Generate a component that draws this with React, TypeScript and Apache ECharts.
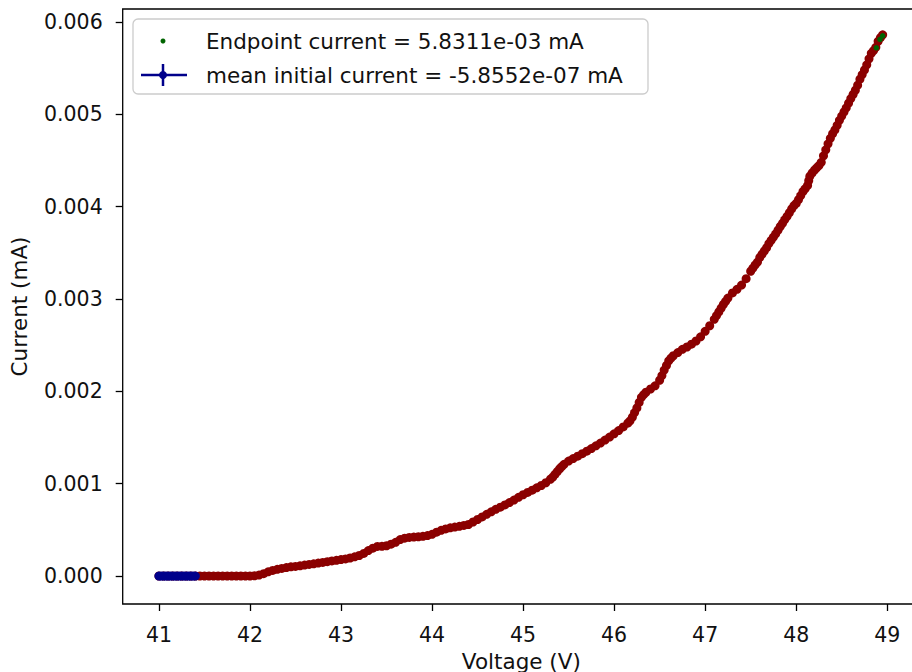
import React, { useEffect, useRef } from "react";
import * as echarts from "echarts";

// Sweep data (voltage in V, current in µA = 1e-3 mA)
const sweepVoltage = [
  41.0, 41.05, 41.1, 41.15, 41.2, 41.25, 41.3, 41.35, 41.4, 41.45,
  41.5, 41.55, 41.6, 41.65, 41.7, 41.75, 41.8, 41.85, 41.9, 41.95,
  42.0, 42.05, 42.1, 42.15, 42.2, 42.25, 42.3, 42.35, 42.4, 42.45,
  42.5, 42.55, 42.6, 42.65, 42.7, 42.75, 42.8, 42.85, 42.9, 42.95,
  43.0, 43.05, 43.1, 43.15, 43.2, 43.25, 43.3, 43.35, 43.4, 43.45,
  43.5, 43.55, 43.6, 43.65, 43.7, 43.75, 43.8, 43.85, 43.9, 43.95,
  44.0, 44.05, 44.1, 44.15, 44.2, 44.25, 44.3, 44.35, 44.4, 44.45,
  44.5, 44.55, 44.6, 44.65, 44.7, 44.75, 44.8, 44.85, 44.9, 44.95,
  45.0, 45.05, 45.1, 45.15, 45.2, 45.25, 45.3, 45.325, 45.35, 45.375, 45.4, 45.425, 45.45,
  45.5, 45.55, 45.6, 45.65, 45.7, 45.75, 45.8, 45.85, 45.9, 45.95,
  46.0, 46.05, 46.1, 46.15, 46.175, 46.2, 46.225, 46.25, 46.275, 46.3, 46.325, 46.35, 46.4, 46.45,
  46.5, 46.525, 46.55, 46.575, 46.6, 46.625, 46.65, 46.7, 46.75, 46.8, 46.85, 46.9, 46.95,
  47.0, 47.05, 47.1, 47.125, 47.15, 47.175, 47.2, 47.225, 47.25, 47.3, 47.35, 47.4, 47.45,
  47.5,
  47.525, 47.55, 47.575, 47.6, 47.625, 47.65, 47.675, 47.7, 47.725, 47.75,
  47.775, 47.8, 47.825, 47.85, 47.875, 47.9, 47.925, 47.95, 47.975, 48.0,
  48.025, 48.05, 48.075, 48.1, 48.125, 48.1375, 48.15, 48.175, 48.2, 48.225, 48.25,
  48.275, 48.3, 48.325, 48.35, 48.375, 48.4, 48.425, 48.45, 48.475, 48.5,
  48.525, 48.55, 48.575, 48.6, 48.625, 48.65, 48.675, 48.7, 48.725, 48.75,
  48.775, 48.8, 48.825, 48.85, 48.875, 48.9, 48.925, 48.95,
];

const sweepCurrentUA = [
  0, 0, 0, 0, 0, 0, 0, 0, 0, 0,
  0, 0, 0, 0, 0, 0, 0, 0, 0, 0,
  0.0, 0.003, 0.01, 0.025, 0.045, 0.06, 0.072, 0.082, 0.092, 0.1,
  0.104, 0.11, 0.118, 0.125, 0.132, 0.14, 0.147, 0.155, 0.163, 0.17,
  0.178, 0.185, 0.195, 0.208, 0.222, 0.245, 0.275, 0.302, 0.32, 0.322,
  0.328, 0.345, 0.365, 0.395, 0.41, 0.418, 0.422, 0.425, 0.43, 0.438,
  0.452, 0.475, 0.495, 0.51, 0.522, 0.53, 0.538, 0.548, 0.558, 0.585,
  0.612, 0.64, 0.668, 0.695, 0.722, 0.745, 0.77, 0.795, 0.822, 0.852,
  0.88, 0.905, 0.93, 0.955, 0.98, 1.01, 1.048, 1.07, 1.1, 1.13, 1.16, 1.185, 1.21,
  1.245, 1.272, 1.298, 1.325, 1.352, 1.38, 1.41, 1.44, 1.472, 1.505,
  1.54, 1.575, 1.615, 1.655, 1.68, 1.72, 1.77, 1.82, 1.88, 1.935, 1.965, 1.99, 2.025, 2.06,
  2.12, 2.17, 2.23, 2.28, 2.33, 2.36, 2.385, 2.42, 2.455, 2.48, 2.51, 2.545, 2.59,
  2.65, 2.71, 2.78, 2.82, 2.86, 2.9, 2.94, 2.975, 3.01, 3.065, 3.105, 3.15, 3.22,
  3.3,
  3.335, 3.37, 3.4, 3.45, 3.485, 3.52, 3.555, 3.6, 3.635, 3.67,
  3.705, 3.745, 3.785, 3.82, 3.86, 3.895, 3.935, 3.975, 4.01, 4.035,
  4.075, 4.12, 4.165, 4.195, 4.23, 4.28, 4.33, 4.365, 4.395, 4.42, 4.445,
  4.48, 4.55, 4.615, 4.68, 4.74, 4.79, 4.83, 4.88, 4.935, 4.98,
  5.025, 5.07, 5.12, 5.17, 5.215, 5.26, 5.315, 5.38, 5.43, 5.48,
  5.535, 5.6, 5.66, 5.69, 5.725, 5.79, 5.83, 5.86,
];

const initialVoltage = [
  41.0, 41.025, 41.05, 41.075, 41.1, 41.125, 41.15, 41.175, 41.2,
  41.225, 41.25, 41.275, 41.3, 41.325, 41.35, 41.375, 41.4,
];
const initialCurrentUA = [
  -0.001, 0.0, -0.001, 0.0, -0.001, 0.0, -0.001, 0.0, -0.001,
  0.0, -0.001, 0.0, -0.001, 0.0, -0.001, 0.0, -0.001,
];

const endpointVoltage = [48.88, 48.92, 48.95];
const endpointCurrentUA = [5.72, 5.81, 5.85];

const xTicks = [41, 42, 43, 44, 45, 46, 47, 48, 49];
const yTicks = [0, 0.001, 0.002, 0.003, 0.004, 0.005, 0.006];

const endpointLabel = "Endpoint current = 5.8311e-03 mA";
const initialLabel = "mean initial current = -5.8552e-07 mA";
const xName = "Voltage (V)";
const yName = "Current (mA)";

const FONT = "DejaVu Sans";
const TXT = "#111";

export default function App() {
  const ref = useRef<HTMLDivElement>(null);
  useEffect(() => {
    if (!ref.current) return;
    const chart = echarts.init(ref.current, undefined, { renderer: "svg" });
    const toMA = (ua: number) => ua / 1000;
    const redData = sweepVoltage.map((v, i) => [v, toMA(sweepCurrentUA[i])]);
    const blueData = initialVoltage.map((v, i) => [v, toMA(initialCurrentUA[i])]);
    const greenData = endpointVoltage.map((v, i) => [v, toMA(endpointCurrentUA[i])]);

    chart.setOption({
      animation: false,
      grid: {
        left: 122.7,
        top: 9,
        width: 797.3,
        height: 595,
        show: true,
        borderColor: "#000",
        borderWidth: 1.3,
        backgroundColor: "transparent",
        containLabel: false,
        outerBoundsMode: "none",
      },
      xAxis: {
        type: "value",
        min: 40.602,
        max: 49.36,
        name: xName,
        nameLocation: "middle",
        nameGap: 46,
        nameTextStyle: { fontFamily: FONT, fontSize: 21.5, color: TXT },
        axisLine: { show: false, onZero: false },
        splitLine: { show: false },
        axisTick: {
          show: true,
          inside: false,
          length: 7,
          lineStyle: { color: "#000", width: 1.3 },
          customValues: xTicks,
        },
        axisLabel: {
          fontFamily: FONT,
          fontSize: 20.5,
          color: TXT,
          margin: 20,
          customValues: xTicks,
          formatter: (v: number) => String(Math.round(v)),
        },
      },
      yAxis: {
        type: "value",
        min: -0.000303,
        max: 0.00614,
        name: yName,
        nameLocation: "middle",
        nameGap: 92,
        nameTextStyle: { fontFamily: FONT, fontSize: 21.5, color: TXT },
        axisLine: { show: false, onZero: false },
        splitLine: { show: false },
        axisTick: {
          show: true,
          inside: false,
          length: 7,
          lineStyle: { color: "#000", width: 1.3 },
          customValues: yTicks,
        },
        axisLabel: {
          fontFamily: FONT,
          fontSize: 20.5,
          color: TXT,
          margin: 20,
          customValues: yTicks,
          formatter: (v: number) => v.toFixed(3),
        },
      },
      series: [
        {
          name: "sweep",
          type: "scatter",
          data: redData,
          symbol: "circle",
          symbolSize: 9,
          itemStyle: { color: "#8b0000", opacity: 1 },
          z: 2,
        },
        {
          name: initialLabel,
          type: "line",
          data: blueData,
          symbol: "circle",
          symbolSize: 9,
          showSymbol: true,
          lineStyle: { color: "#00008b", width: 2 },
          itemStyle: { color: "#00008b", opacity: 1 },
          z: 3,
        },
        {
          name: endpointLabel,
          type: "scatter",
          data: greenData,
          symbol: "circle",
          symbolSize: 5.5,
          itemStyle: { color: "#006400", opacity: 1 },
          z: 4,
        },
      ],
      graphic: [
        {
          type: "rect",
          shape: { x: 133, y: 19, width: 515, height: 75, r: 5 },
          style: { fill: "rgba(255,255,255,0.8)", stroke: "#cccccc", lineWidth: 1.3 },
          z: 10,
        },
        {
          type: "circle",
          shape: { cx: 163, cy: 41, r: 2.5 },
          style: { fill: "#006400" },
          z: 11,
        },
        {
          type: "text",
          x: 206,
          y: 41,
          style: {
            text: endpointLabel,
            fontFamily: FONT,
            fontSize: 21.5,
            fill: TXT,
            verticalAlign: "middle",
            align: "left",
          },
          z: 11,
        },
        {
          type: "line",
          shape: { x1: 141, y1: 75, x2: 187, y2: 75 },
          style: { stroke: "#00008b", lineWidth: 2.5 },
          z: 11,
        },
        {
          type: "line",
          shape: { x1: 163, y1: 64, x2: 163, y2: 86 },
          style: { stroke: "#00008b", lineWidth: 2.5 },
          z: 11,
        },
        {
          type: "circle",
          shape: { cx: 163, cy: 75, r: 4 },
          style: { fill: "#00008b" },
          z: 11,
        },
        {
          type: "text",
          x: 206,
          y: 75,
          style: {
            text: initialLabel,
            fontFamily: FONT,
            fontSize: 21.5,
            fill: TXT,
            verticalAlign: "middle",
            align: "left",
          },
          z: 11,
        },
      ],
    });
    return () => chart.dispose();
  }, []);
  return (
    <div
      ref={ref}
      style={{ position: "fixed", left: 0, top: 0, width: 912, height: 672, background: "#fff" }}
    />
  );
}
